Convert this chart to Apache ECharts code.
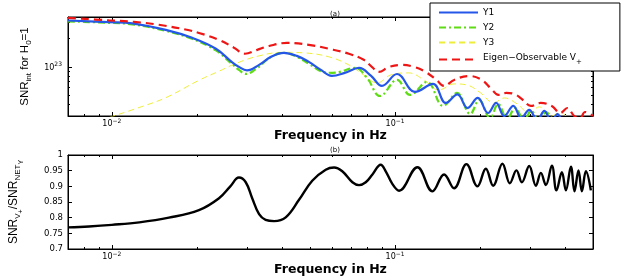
<!DOCTYPE html>
<html><head><meta charset="utf-8">
<script src="https://cdn.jsdelivr.net/npm/echarts@6/dist/echarts.min.js"></script>
<style>html,body{margin:0;padding:0;background:#fff}#c{width:623px;height:277px}</style>
</head><body><div id="c"></div>
<script>
// ---- data (panel a) ----
const freqY1 = [0.007, 0.00976, 0.0118, 0.0155, 0.0192, 0.0233, 0.0265, 0.0281, 0.0300, 0.0331, 0.0365, 0.0405, 0.0450, 0.0496, 0.0547, 0.0598, 0.0664, 0.0746, 0.0823, 0.0899, 0.1016, 0.1176, 0.1361, 0.1512, 0.166, 0.1803, 0.1959, 0.2130, 0.2274, 0.2429, 0.2615, 0.2789, 0.2976, 0.3178, 0.3368, 0.3565, 0.3746, 0.3966, 0.4166, 0.4408];
const snrY1 = [3.12e23, 3.0e23, 2.91e23, 2.48e23, 2.04e23, 1.56e23, 1.13e23, 1.0e23, 9.18e22, 1.05e23, 1.28e23, 1.41e23, 1.31e23, 1.13e23, 9.29e22, 8.02e22, 8.63e22, 9.76e22, 8.02e22, 6.27e22, 8.4e22, 5.41e22, 6.59e22, 4.13e22, 5.1e22, 3.65e22, 4.67e22, 3.23e22, 4.13e22, 3.0e22, 3.84e22, 2.85e22, 3.48e22, 2.72e22, 3.4e22, 2.6e22, 3.15e22, 2.4e22, 2.85e22, 2.1e22];

const freqY2 = [0.007, 0.00976, 0.0118, 0.0155, 0.0192, 0.0233, 0.0265, 0.0281, 0.0297, 0.0326, 0.0365, 0.0405, 0.045, 0.0496, 0.0561, 0.0600, 0.0634, 0.0722, 0.0796, 0.0885, 0.1016, 0.1130, 0.1297, 0.1478, 0.1656, 0.1841, 0.1981, 0.2166, 0.2312, 0.2488, 0.2655, 0.2857, 0.3024, 0.3228, 0.3417, 0.3647];
const snrY2 = [3.05e23, 2.95e23, 2.84e23, 2.42e23, 1.99e23, 1.5e23, 1.08e23, 9.3e22, 8.42e22, 9.76e22, 1.28e23, 1.41e23, 1.28e23, 1.08e23, 8.8e22, 8.65e22, 8.8e22, 9.76e22, 7.63e22, 4.9e22, 7.27e22, 5.03e22, 6.92e22, 3.84e22, 5.28e22, 3.15e22, 4.44e22, 2.85e22, 4.03e22, 2.8e22, 3.65e22, 2.72e22, 3.4e22, 2.66e22, 3.31e22, 2.4e22];

const freqY3 = [0.0098, 0.0125, 0.0155, 0.0203, 0.0239, 0.0281, 0.0331, 0.0399, 0.0477, 0.0584, 0.0687, 0.0775, 0.0864, 0.0967, 0.1118, 0.1264, 0.1428, 0.1616, 0.1789, 0.2006, 0.2230, 0.2429, 0.2700, 0.2976, 0.3227, 0.3565, 0.3832, 0.4143];
const snrY3 = [2.9e22, 3.7e22, 4.7e22, 7.2e22, 9.0e22, 1.12e23, 1.31e23, 1.43e23, 1.41e23, 1.28e23, 1.05e23, 8.22e22, 6.75e22, 8.22e22, 8.63e22, 7.27e22, 5.68e22, 6.59e22, 6.43e22, 5.28e22, 4.13e22, 4.67e22, 4.03e22, 3.23e22, 3.75e22, 3.0e22, 3.31e22, 2.6e22];

const freqVp = [0.007, 0.00976, 0.01196, 0.01465, 0.0182, 0.0203, 0.0239, 0.0270, 0.0295, 0.0326, 0.0359, 0.0415, 0.0496, 0.0584, 0.0687, 0.0775, 0.0828, 0.0876, 0.0953, 0.106, 0.1166, 0.1264, 0.139, 0.149, 0.1616, 0.1823, 0.2023, 0.219, 0.2317, 0.247, 0.2633, 0.2829, 0.3015, 0.3266, 0.3575, 0.3832, 0.4057, 0.4292, 0.45, 0.4687, 0.5];
const snrVp = [3.33e23, 3.13e23, 3.02e23, 2.81e23, 2.5e23, 2.3e23, 1.94e23, 1.6e23, 1.38e23, 1.52e23, 1.67e23, 1.80e23, 1.72e23, 1.56e23, 1.38e23, 1.19e23, 1.0e23, 8.84e22, 1.0e23, 1.05e23, 1.0e23, 9.06e22, 7.45e22, 6.27e22, 7.27e22, 8.0e22, 7.27e22, 5.8e22, 5.03e22, 5.28e22, 5.15e22, 4.44e22, 3.84e22, 4.13e22, 3.84e22, 3.23e22, 3.65e22, 3.0e22, 2.85e22, 3.31e22, 3.0e22];

// ---- data (panel b) ----
const freqRatio = [0.007, 0.0083, 0.01, 0.0125, 0.0159, 0.0203, 0.0239, 0.0262, 0.0281, 0.0297, 0.0313, 0.0331, 0.0349, 0.0374, 0.0411, 0.0458, 0.0510, 0.0569, 0.0609, 0.0651, 0.0707, 0.0746, 0.0788, 0.0832, 0.0890, 0.0927, 0.0978, 0.1033, 0.1199, 0.1355, 0.1490, 0.1616, 0.1786, 0.1954, 0.2092, 0.2220, 0.2394, 0.2543, 0.2683, 0.2804, 0.2976, 0.3143, 0.3272, 0.3408, 0.3579, 0.3715, 0.3882, 0.4011, 0.4178, 0.4301, 0.4443, 0.4568, 0.4719, 0.4914];
const ratio = [0.769, 0.772, 0.777, 0.785, 0.800, 0.824, 0.862, 0.900, 0.928, 0.913, 0.862, 0.811, 0.793, 0.789, 0.801, 0.857, 0.918, 0.953, 0.960, 0.948, 0.913, 0.904, 0.913, 0.938, 0.969, 0.948, 0.908, 0.886, 0.961, 0.884, 0.938, 0.894, 0.971, 0.900, 0.956, 0.902, 0.972, 0.910, 0.951, 0.913, 0.965, 0.902, 0.943, 0.904, 0.966, 0.887, 0.945, 0.887, 0.963, 0.884, 0.951, 0.884, 0.948, 0.887];

// axis ranges / tick labels
const xMin = 0.007, xMax = 0.5;
const yTopMin = 3e22, yTopMax = 3.4e23;
const yBotMin = 0.7, yBotMax = 1, yBotStep = 0.05;

const zip = (a, b) => a.map((v, i) => [v, b[i]]);
const FONT = 'DejaVu Sans';
const NAMEFONT = 'Liberation Sans';

function powLabel(v) {
  const e = Math.log10(v);
  if (Math.abs(e - Math.round(e)) > 1e-6) return '';
  const r = Math.round(e);
  return '{m|10}{sup|' + String(r).replace('-', '\u2212') + '}';
}
const mkPowRich = () => ({
  m: { fontSize: 8, fontFamily: FONT, color: '#000', verticalAlign: 'bottom' },
  sup: { fontSize: 6, fontFamily: FONT, color: '#000', verticalAlign: 'top', padding: [0, 0, 4, 0] }
});
const mkLine = () => ({ show: true, lineStyle: { color: '#000' } });
const mkTick = () => ({ show: true, inside: true, length: 4, lineStyle: { color: '#000' } });
const mkMinor = () => ({ show: true, splitNumber: 9, length: 2, lineStyle: { color: '#000' } });
const mkSubRich = (fs) => ({
  m: { fontSize: fs, fontFamily: NAMEFONT, color: '#000', verticalAlign: 'top' },
  sub: { fontSize: 8, fontFamily: NAMEFONT, color: '#000', verticalAlign: 'top', padding: [6, 0, 0, 0] },
  ss: { fontSize: 7, fontFamily: NAMEFONT, color: '#000', verticalAlign: 'top', padding: [10, 0, 0, 0] }
});

function xAxes(gridIndex, gap) {
  return [
    {
      type: 'log', gridIndex, min: xMin, max: xMax, position: 'bottom',
      axisLine: mkLine(), axisTick: mkTick(), minorTick: mkMinor(),
      splitLine: { show: false },
      axisLabel: { margin: 2, formatter: powLabel, rich: mkPowRich(), showMinLabel: false, showMaxLabel: false },
      name: 'Frequency in Hz', nameLocation: 'middle', nameGap: gap,
      nameTextStyle: { fontFamily: FONT, fontSize: 12.5, fontWeight: 'bold', color: '#000', verticalAlign: 'top' }
    },
    {
      type: 'log', gridIndex, min: xMin, max: xMax, position: 'top',
      axisLine: mkLine(), axisTick: mkTick(), minorTick: mkMinor(),
      splitLine: { show: false },
      axisLabel: { show: false }
    }
  ];
}

const chart = echarts.init(document.getElementById('c'));
const VPNAME = 'Eigen\u2212Observable V+';
const option = {
  animation: false,
  title: [
    { text: '(a)', left: 330, top: 6, textAlign: 'center', textStyle: { fontFamily: FONT, fontSize: 7, fontWeight: 'normal', color: '#000' } },
    { text: '(b)', left: 330, top: 142, textAlign: 'center', textStyle: { fontFamily: FONT, fontSize: 7, fontWeight: 'normal', color: '#000' } }
  ],
  legend: {
    orient: 'vertical', left: 430, top: 3,
    padding: [5, 38, 5, 8], itemGap: 6, itemWidth: 39, itemHeight: 8,
    backgroundColor: '#fff', borderColor: '#000', borderWidth: 1,
    itemStyle: { opacity: 0 },
    data: ['Y1', 'Y2', 'Y3', VPNAME],
    formatter: n => n === VPNAME ? '{t|Eigen\u2212Observable V}{s|+}' : '{t|' + n + '}',
    textStyle: {
      fontFamily: FONT, fontSize: 9, color: '#000',
      rich: {
        t: { fontFamily: FONT, fontSize: 9, color: '#000', verticalAlign: 'top' },
        s: { fontFamily: FONT, fontSize: 7, color: '#000', verticalAlign: 'top', padding: [6, 0, 0, 0] }
      }
    }
  },
  grid: [
    { left: 68, top: 17, width: 525, height: 99, show: true, borderColor: '#000', borderWidth: 1, backgroundColor: 'transparent' },
    { left: 68, top: 155, width: 525, height: 98, show: true, borderColor: '#000', borderWidth: 1, backgroundColor: 'transparent' }
  ],
  xAxis: [].concat(xAxes(0, 8), xAxes(1, 14)),
  yAxis: [
    {
      type: 'log', gridIndex: 0, min: yTopMin, max: yTopMax, position: 'left',
      axisLine: mkLine(), axisTick: mkTick(), minorTick: mkMinor(),
      splitLine: { show: false },
      axisLabel: { margin: 6, formatter: powLabel, rich: mkPowRich(), showMinLabel: false, showMaxLabel: false },
      name: '{m|SNR}{sub|int}{m| for H}{sub|0}{m|=1}', nameLocation: 'middle', nameRotate: 90, nameGap: 28,
      nameTextStyle: { rich: mkSubRich(11.5) }
    },
    {
      type: 'log', gridIndex: 0, min: yTopMin, max: yTopMax, position: 'right',
      axisLine: mkLine(), axisTick: mkTick(), minorTick: mkMinor(),
      splitLine: { show: false }, axisLabel: { show: false }
    },
    {
      type: 'value', gridIndex: 1, min: yBotMin, max: yBotMax, interval: yBotStep, position: 'left',
      axisLine: mkLine(), axisTick: mkTick(),
      splitLine: { show: false },
      axisLabel: { margin: 5, fontFamily: FONT, fontSize: 8.5, color: '#000' },
      name: '{m|SNR}{sub|V}{ss|+}{m|/SNR}{sub|NET}{ss|Y}', nameLocation: 'middle', nameRotate: 90, nameGap: 43,
      nameTextStyle: { rich: mkSubRich(12) }
    },
    {
      type: 'value', gridIndex: 1, min: yBotMin, max: yBotMax, interval: yBotStep, position: 'right',
      axisLine: mkLine(), axisTick: mkTick(),
      splitLine: { show: false }, axisLabel: { show: false }
    }
  ],
  series: [
    { name: 'Y3', type: 'line', xAxisIndex: 0, yAxisIndex: 0, data: zip(freqY3, snrY3), smooth: 0.4, showSymbol: false, symbol: 'none',
      lineStyle: { color: '#eeee3a', width: 1, type: [6, 4] }, itemStyle: { color: '#eeee3a' } },
    { name: 'Y2', type: 'line', xAxisIndex: 0, yAxisIndex: 0, data: zip(freqY2, snrY2), smooth: 0.4, showSymbol: false, symbol: 'none',
      lineStyle: { color: '#5fdc14', width: 2.2, type: [7, 3, 2, 3] }, itemStyle: { color: '#5fdc14' } },
    { name: 'Y1', type: 'line', xAxisIndex: 0, yAxisIndex: 0, data: zip(freqY1, snrY1), smooth: 0.4, showSymbol: false, symbol: 'none',
      lineStyle: { color: '#2456e8', width: 2.2, type: 'solid' }, itemStyle: { color: '#2456e8' } },
    { name: VPNAME, type: 'line', xAxisIndex: 0, yAxisIndex: 0, data: zip(freqVp, snrVp), smooth: 0.4, showSymbol: false, symbol: 'none',
      lineStyle: { color: '#ee1515', width: 2.2, type: [8, 5] }, itemStyle: { color: '#ee1515' } },
    { name: 'ratio', type: 'line', xAxisIndex: 2, yAxisIndex: 2, data: zip(freqRatio, ratio), smooth: 0.4, showSymbol: false, symbol: 'none',
      lineStyle: { color: '#000', width: 2.4 }, itemStyle: { color: '#000' } }
  ]
};
chart.setOption(option);
</script>
</body></html>
